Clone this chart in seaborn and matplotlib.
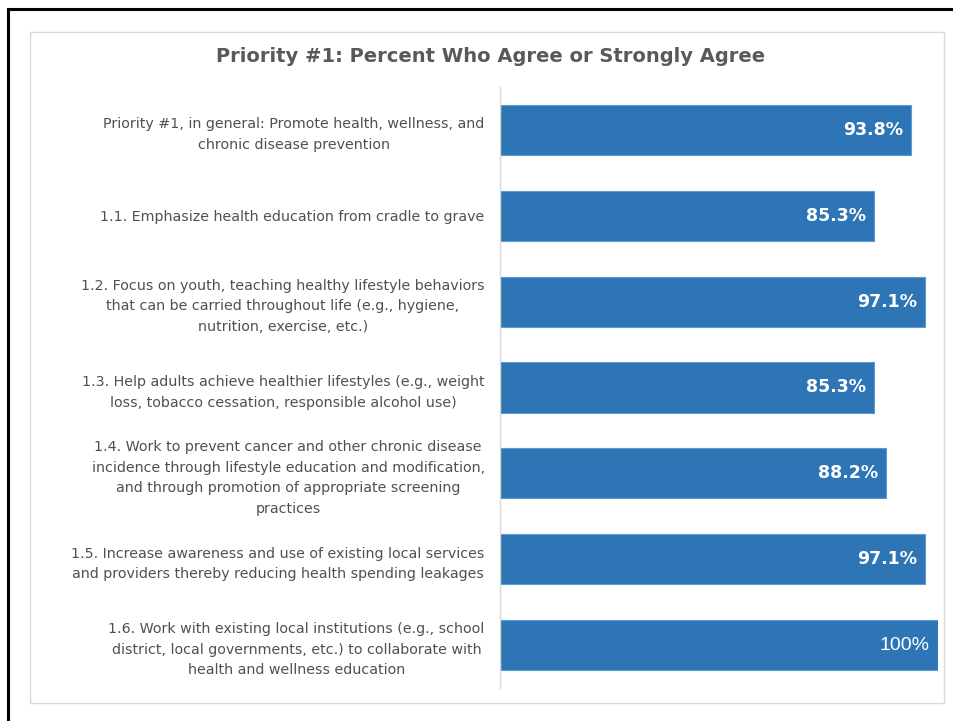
import matplotlib.pyplot as plt
import matplotlib.patches as mpatches
import seaborn as sns
import pandas as pd

categories = [
    "Priority #1, in general: Promote health, wellness, and\nchronic disease prevention",
    "1.1. Emphasize health education from cradle to grave",
    "1.2. Focus on youth, teaching healthy lifestyle behaviors\nthat can be carried throughout life (e.g., hygiene,\nnutrition, exercise, etc.)",
    "1.3. Help adults achieve healthier lifestyles (e.g., weight\nloss, tobacco cessation, responsible alcohol use)",
    "1.4. Work to prevent cancer and other chronic disease\nincidence through lifestyle education and modification,\nand through promotion of appropriate screening\npractices",
    "1.5. Increase awareness and use of existing local services\nand providers thereby reducing health spending leakages",
    "1.6. Work with existing local institutions (e.g., school\ndistrict, local governments, etc.) to collaborate with\nhealth and wellness education",
]
values = [93.8, 85.3, 97.1, 85.3, 88.2, 97.1, 100]
value_labels = ["93.8%", "85.3%", "97.1%", "85.3%", "88.2%", "97.1%", "100%"]

df = pd.DataFrame({"item": categories, "pct": values})

sns.set_style("white")
plt.rcParams['font.family'] = ['DejaVu Sans']

fig = plt.figure(figsize=(9.54, 7.21), dpi=100)

# outer black frame (left + top) and light gray chart box
fig.patches.append(mpatches.Rectangle((8 / 954, -0.1), 1.2, 1.1 - 9 / 721, transform=fig.transFigure,
                                      fill=False, edgecolor='black', linewidth=2.2))
fig.patches.append(mpatches.Rectangle((30 / 954, 1 - 703 / 721), 914 / 954, 671 / 721, transform=fig.transFigure,
                                      fill=False, edgecolor='#D9D9D9', linewidth=1.0))

ax = fig.add_axes([500 / 954, 1 - 688 / 721, 438 / 954, 601 / 721])
sns.barplot(data=df, x="pct", y="item", orient="h", color="#2E75B6", saturation=1,
            width=0.585, edgecolor="#5B9BD5", linewidth=0.8, ax=ax)

ax.set_xlim(0, 100)
ax.set_xlabel("")
ax.set_ylabel("")
ax.set_xticks([])
for s in ["top", "right", "bottom"]:
    ax.spines[s].set_visible(False)
ax.spines["left"].set_color("#D9D9D9")
ax.spines["left"].set_linewidth(1.0)

ax.tick_params(axis="y", length=0, pad=11)
for lbl in ax.get_yticklabels():
    lbl.set_fontsize(10.3)
    lbl.set_color("#505050")
    lbl.set_multialignment("center")
    lbl.set_linespacing(1.6)

for i, (v, t) in enumerate(zip(values, value_labels)):
    if t == "100%":
        ax.text(v - 2.0, i, t, ha="right", va="center", color="white", fontsize=14,
                family="Liberation Sans")
    else:
        ax.text(v - 1.8, i, t, ha="right", va="center", color="white", fontsize=12.5,
                fontweight="bold")

fig.text(491 / 954, 1 - 57 / 721, "Priority #1: Percent Who Agree or Strongly Agree",
         ha="center", va="center", fontsize=14, fontweight="bold", color="#595959")

fig.savefig("out.png", dpi=100)
